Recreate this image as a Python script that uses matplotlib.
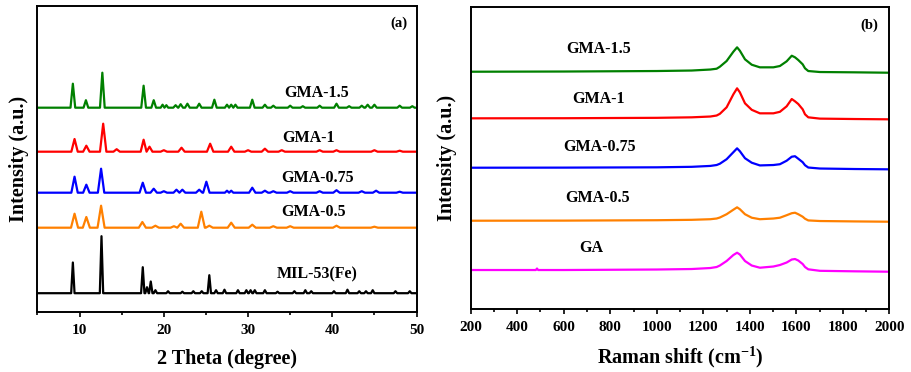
import matplotlib
matplotlib.use('Agg')
import matplotlib.pyplot as plt
from matplotlib.ticker import MultipleLocator
import numpy as np

plt.rcParams['font.family'] = ['Liberation Serif', 'DejaVu Serif']
plt.rcParams['font.weight'] = 'bold'
plt.rcParams['mathtext.fontset'] = 'custom'
plt.rcParams['mathtext.rm'] = 'Liberation Serif:bold'
plt.rcParams['mathtext.bf'] = 'Liberation Serif:bold'
plt.rcParams['mathtext.default'] = 'bf'

# ---- XRD (a): peak positions (2theta) and heights above each baseline ----
xrd_names = ['GMA-1.5', 'GMA-1', 'GMA-0.75', 'GMA-0.5', 'MIL-53(Fe)']
xrd_colors = ['#008000', '#ff0000', '#0000ff', '#ff8000', '#000000']
xrd_offsets = [204, 160, 119, 84, 18.5]

pos_gma15 = [9.2, 10.75, 12.7, 17.6, 18.8, 19.85, 20.3, 21.4, 22.0, 22.8, 24.2, 26.0,
             27.5, 28.0, 28.5, 30.5, 32.0, 33.0, 35.0, 36.5, 38.5, 40.5, 42.0, 43.5,
             44.2, 45.0, 48.0, 49.5]
int_gma15 = [24, 7.5, 35, 22, 7.5, 3, 2.5, 2.5, 3.5, 4, 4, 8,
             3, 3, 3, 8, 3, 2, 2, 1.5, 2, 4, 1.5, 2,
             3, 3, 2, 1.5]

pos_gma1 = [9.4, 10.8, 12.8, 14.4, 17.6, 18.3, 20.0, 22.1, 25.5, 28.0, 30.0, 32.0,
            34.0, 38.5, 40.5, 45.0, 48.0]
int_gma1 = [12.7, 6, 28, 2.5, 12, 5, 1.5, 4, 8, 5, 1.5, 3,
            1.5, 1.5, 1.5, 1.5, 1]

pos_gma075 = [9.4, 10.8, 12.55, 17.5, 18.8, 20.0, 21.5, 22.2, 24.2, 25.05, 27.5, 28.0,
              30.5, 32.0, 33.0, 35.0, 38.5, 40.5, 43.5, 45.2, 48.0]
int_gma075 = [16, 8, 24, 10, 4, 1.5, 3, 3, 3, 11, 2, 2,
              5, 2, 1.5, 1.5, 1.5, 2.5, 1.5, 2, 1]

pos_gma05 = [9.4, 10.8, 12.55, 17.45, 19.0, 21.2, 22.0, 24.45, 25.4, 28.0, 30.5, 33.0,
             35.0, 40.5, 45.0]
int_gma05 = [14, 10.7, 22, 5.7, 2, 1.5, 4, 16, 2, 5, 3, 1.5,
             1.5, 2, 1]

pos_mil = [9.2, 12.6, 17.5, 18.0, 18.45, 19.0, 20.5, 22.2, 23.5, 24.5, 25.4, 26.2,
           27.2, 28.8, 29.8, 30.3, 30.8, 32.0, 33.5, 35.5, 36.8, 37.5, 40.2, 41.8,
           43.2, 44.0, 44.8, 47.5, 49.2]
int_mil = [30.7, 57, 26, 6, 11.7, 3, 2, 1.5, 2, 2, 18, 3,
           3.5, 3, 3, 3, 3, 3, 1.5, 2, 3, 2, 2, 3.5,
           2, 2, 3, 2, 2]

xrd_pos = [pos_gma15, pos_gma1, pos_gma075, pos_gma05, pos_mil]
xrd_int = [int_gma15, int_gma1, int_gma075, int_gma05, int_mil]
xrd_halfwidth = [0.28, 0.38, 0.38, 0.42, 0.2]
xrd_label_xy = [(38.2, 219), (37.2, 174), (38.3, 133.7), (37.8, 100), (38.2, 37.7)]

# ---- Raman (b): points, height above its baseline ----
raman_names = ['GMA-1.5', 'GMA-1', 'GMA-0.75', 'GMA-0.5', 'GA']
raman_colors = ['#008000', '#ff0000', '#0000ff', '#ff8000', '#ff00ff']
raman_offsets = [237.6, 191, 141.6, 88.6, 39.3]

raman_shift = [200, 600, 1000, 1150, 1230, 1257, 1271, 1300, 1329, 1345, 1357, 1379,
               1408, 1443, 1501, 1529, 1558, 1580, 1594, 1608, 1627, 1637, 1651, 1701,
               1850, 2000]
ry_gma15 = [0, 0.2, 0.7, 1.2, 2.2, 3, 5, 10.7, 20, 24.4, 21, 12.4,
            7, 4.4, 4.4, 5.7, 10.4, 16, 14.4, 11.7, 7.4, 3.4, 0.7, -0.3,
            -0.6, -1]
ry_gma1 = [0, 0.1, 0.5, 1, 1.8, 2.8, 4.5, 11, 24, 30, 26, 15,
           8.5, 5, 5, 6.5, 12, 19.3, 17, 14.3, 9, 4, 1, -0.3,
           -0.7, -1]
ry_gma075 = [0, 0.1, 0.4, 0.9, 1.8, 2.7, 4, 8.5, 15.5, 19.4, 16.5, 9.5,
             5, 2.3, 2.7, 3.5, 7, 11, 11.5, 9, 5.5, 2.5, 0.2, -0.8,
             -1.3, -1.6]
ry_gma05 = [0, 0.1, 0.5, 0.9, 1.5, 2.2, 3.2, 6.5, 11, 13.4, 11.5, 6.5,
            3, 1.5, 2.2, 3, 5.5, 7.5, 8, 6.5, 4, 2, 0.3, -0.3,
            -0.7, -1]
# GA trace also shows a tiny spike near 485 cm-1
rx_ga = [200, 480, 485, 490, 600, 1000, 1150, 1230, 1257, 1271, 1300, 1329,
         1345, 1357, 1379, 1408, 1443, 1501, 1529, 1558, 1580, 1594, 1608, 1627,
         1637, 1651, 1701, 1850, 2000]
ry_ga = [0, 0, 1.5, 0, 0, 0.5, 1, 2, 3, 4.5, 9, 15,
         17.3, 15.5, 9, 4.5, 2.3, 3.5, 5, 7.5, 10.5, 11, 9.5, 6,
         3, 0.7, -0.8, -1.3, -1.7]

raman_x = [raman_shift, raman_shift, raman_shift, raman_shift, rx_ga]
raman_y = [ry_gma15, ry_gma1, ry_gma075, ry_gma05, ry_ga]
raman_label_xy = [(751, 260), (751, 210.3), (756, 162.6), (744, 111.6), (720, 61)]


def stick_outline(pos, heights, hw, xmin=5, xmax=50):
    # outline of sharp peaks on a flat baseline
    xs, ys = [xmin], [0]
    for i, (p, h) in enumerate(zip(pos, heights)):
        w = hw
        if i > 0:
            w = min(w, (p - pos[i - 1]) / 2)
        if i < len(pos) - 1:
            w = min(w, (pos[i + 1] - p) / 2)
        xs += [p - w, p, p + w]
        ys += [0, h, 0]
    xs.append(xmax)
    ys.append(0)
    return np.array(xs), np.array(ys)


fig = plt.figure(figsize=(9.12, 3.72), dpi=100)
ax1 = fig.add_axes([0.0411, 0.1621, 0.4156, 0.8226])
ax2 = fig.add_axes([0.5161, 0.1685, 0.4592, 0.8118])

for name, c, off, p, h, hw, (lx, ly) in zip(xrd_names, xrd_colors, xrd_offsets, xrd_pos,
                                            xrd_int, xrd_halfwidth, xrd_label_xy):
    x, y = stick_outline(p, h, hw)
    ax1.plot(x, y + off, color=c, lw=1.6, solid_joinstyle='round')
    ax1.text(lx, ly, name, ha='center', va='center', fontsize=11.5, fontweight='bold')

ax1.set_xlim(5, 50)
ax1.set_ylim(0, 306)
ax1.xaxis.set_major_locator(MultipleLocator(10))
ax1.xaxis.set_minor_locator(MultipleLocator(5))
ax1.set_yticks([])
ax1.set_xlabel('2 Theta (degree)', fontsize=14.5, fontweight='bold', labelpad=9)
ax1.set_ylabel('Intensity (a.u.)', fontsize=14.5, fontweight='bold')
ax1.yaxis.set_label_coords(-0.022, 0.5)
ax1.text(0.954, 0.944, '(a)', transform=ax1.transAxes, ha='center', va='center',
         fontsize=10.5, fontweight='bold')

for name, c, off, x, y, (lx, ly) in zip(raman_names, raman_colors, raman_offsets,
                                        raman_x, raman_y, raman_label_xy):
    ax2.plot(x, np.array(y) + off, color=c, lw=1.6, solid_joinstyle='round')
    ax2.text(lx, ly, name, ha='center', va='center', fontsize=11.5, fontweight='bold')

ax2.set_xlim(200, 2000)
ax2.set_ylim(0, 302)
ax2.xaxis.set_major_locator(MultipleLocator(200))
ax2.xaxis.set_minor_locator(MultipleLocator(100))
ax2.set_yticks([])
ax2.set_xlabel('Raman shift (cm$^{-1}$)', fontsize=14.5, fontweight='bold', labelpad=8)
ax2.set_ylabel('Intensity (a.u.)', fontsize=14.5, fontweight='bold')
ax2.yaxis.set_label_coords(-0.033, 0.5)
ax2.text(0.953, 0.941, '(b)', transform=ax2.transAxes, ha='center', va='center',
         fontsize=10.5, fontweight='bold')

for ax in (ax1, ax2):
    for s in ax.spines.values():
        s.set_linewidth(1.4)
    ax.tick_params(axis='x', which='major', direction='out', length=3.5, width=1.2,
                   pad=5, labelsize=11)
    ax.tick_params(axis='x', which='minor', direction='out', length=2, width=1.2)
    for lab in ax.get_xticklabels():
        lab.set_fontweight('bold')

fig.savefig('out.png', dpi=100)
